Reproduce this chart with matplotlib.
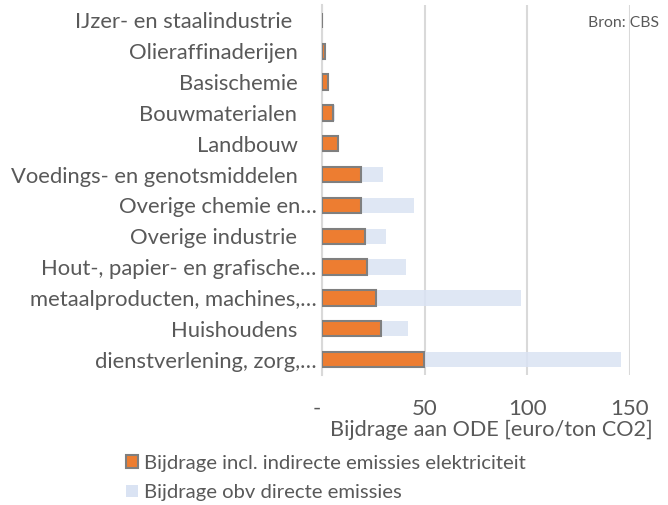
import matplotlib
matplotlib.use("Agg")
import matplotlib.pyplot as plt
import matplotlib.transforms as mtransforms
from matplotlib.patches import Patch
from matplotlib.ticker import FuncFormatter

categories = [
    "IJzer- en staalindustrie",
    "Olieraffinaderijen",
    "Basischemie",
    "Bouwmaterialen",
    "Landbouw",
    "Voedings- en genotsmiddelen",
    "Overige chemie en…",
    "Overige industrie",
    "Hout-, papier- en grafische…",
    "metaalproducten, machines,…",
    "Huishoudens",
    "dienstverlening, zorg,…",
]
incl_indirect = [0.0, 1.3, 2.9, 5.5, 7.6, 18.8, 18.8, 21.1, 21.9, 26.1, 28.7, 49.8]
direct_only = [0.0, 1.0, 2.9, 6.5, 7.6, 29.8, 44.9, 31.0, 40.9, 96.8, 41.8, 145.8]
xticks = [0, 50, 100, 150]

W, H = 668, 505
fig = plt.figure(figsize=(W / 100, H / 100), dpi=100)
plt.rcParams['font.family'] = ['Lato', 'DejaVu Sans']
txt = '#595959'

ax = fig.add_axes([322 / W, 1 - 375 / H, (630 - 322) / W, 370 / H])
y = list(range(len(categories)))
ax.barh(y, direct_only, height=0.5, color='#DAE3F3', alpha=0.85, zorder=3,
        label='Bijdrage obv directe emissies')
ax.barh(y, incl_indirect, height=0.5, color='#ED7D31', edgecolor='#7F7F7F',
        linewidth=1.5, zorder=4, label='Bijdrage incl. indirecte emissies elektriciteit')

ax.set_ylim(len(categories) - 0.5, -0.5)
ax.set_xlim(0, 150)
ax.set_yticks(y)
ax.set_yticklabels(categories, fontsize=15.8, color=txt)
ax.set_xticks(xticks)
ax.xaxis.set_major_formatter(FuncFormatter(lambda v, p: '-' if v == 0 else f'{int(v)}'))
ax.tick_params(axis='x', length=0, labelsize=16, labelcolor=txt, pad=17)
ax.tick_params(axis='y', length=0, pad=4)
for lab in ax.get_yticklabels():
    if not lab.get_text().endswith('…'):
        dx = -0.24 if lab.get_text().startswith('IJzer') else -0.19
        lab.set_transform(lab.get_transform() +
                          mtransforms.ScaledTranslation(dx, 0, fig.dpi_scale_trans))
for lab in ax.get_xticklabels():
    if lab.get_text() == '-':
        lab.set_transform(lab.get_transform() +
                          mtransforms.ScaledTranslation(-0.05, 0, fig.dpi_scale_trans))
ax.grid(axis='x', color='#D9D9D9', linewidth=1.5, zorder=1)
for s in ['top', 'right', 'bottom']:
    ax.spines[s].set_visible(False)
ax.spines['left'].set_color('#D9D9D9')
ax.spines['left'].set_linewidth(1.5)
ax.set_xlabel('Bijdrage aan ODE [euro/ton CO2]', fontsize=15.6, color=txt, labelpad=1)
ax.xaxis.set_label_coords((491 - 322) / 308, 1 - (430 - 5) / 370 + 0.0)
ax.xaxis.label.set_va('center')

ax.text((623 - 322) / 308, 1 - (23 - 5) / 370, 'Bron: CBS', transform=ax.transAxes,
        fontsize=11.3, color=txt, ha='center', va='center', zorder=5)

handles = [Patch(facecolor='#ED7D31', edgecolor='#7F7F7F', linewidth=1.5,
                 label='Bijdrage incl. indirecte emissies elektriciteit'),
           Patch(facecolor='#DAE3F3', label='Bijdrage obv directe emissies')]
leg = fig.legend(handles=handles, loc='upper left', bbox_to_anchor=(126 / W, 1 - 455 / H),
                 frameon=False, fontsize=14.6, handlelength=0.6, handleheight=0.6,
                 handletextpad=0.3, labelspacing=0.6, borderaxespad=0, borderpad=0)
for t in leg.get_texts():
    t.set_color(txt)

fig.savefig('out.png', dpi=100)
